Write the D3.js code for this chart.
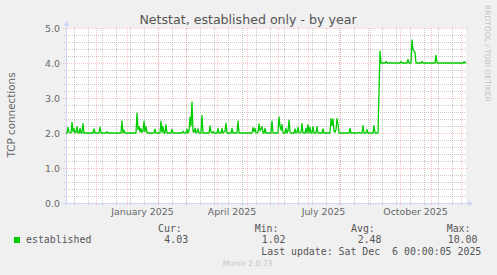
<!DOCTYPE html>
<html>
<head>
<meta charset="utf-8">
<script src="https://cdn.jsdelivr.net/npm/d3@7"></script>
<style>
    html, body { margin: 0; padding: 0; background: #f0f0f0; }
    svg { display: block; }
    text { font-family: "DejaVu Sans", sans-serif; fill: #666; }
    .mono { font-family: "DejaVu Sans Mono", monospace; fill: #555; white-space: pre; }
</style>
</head>
<body>
<svg id="chart" width="497" height="275"></svg>
<script>
const title = "Netstat, established only - by year";
const yLabel = "TCP connections";
const sideLabel = "RRDTOOL / TOBI OETIKER";
const yTicks = [0, 1, 2, 3, 4, 5];
const xTickMonths = ["2025-01-01", "2025-04-01", "2025-07-01", "2025-10-01"];
const xTickLabels = ["January 2025", "April 2025", "July 2025", "October 2025"];
const seriesName = "established";
const legendHeads = ["Cur:", "Min:", "Avg:", "Max:"];
const legendValues = ["4.03", "1.02", "2.48", "10.00"];
const lastUpdate = "Last update: Sat Dec  6 00:00:05 2025";
const footer = "Munin 2.0.73";

// daily averages, only the days where the line bends
const established = [
    ["2024-11-01", 2.00], ["2024-11-02", 2.00], ["2024-11-03", 2.16], ["2024-11-04", 2.02], ["2024-11-06", 2.00],
    ["2024-11-07", 2.30], ["2024-11-08", 2.04], ["2024-11-09", 2.13], ["2024-11-10", 2.00], ["2024-11-11", 2.02],
    ["2024-11-12", 2.18], ["2024-11-13", 2.00], ["2024-11-14", 2.00], ["2024-11-15", 2.13], ["2024-11-16", 2.00],
    ["2024-11-17", 2.00], ["2024-11-18", 2.27], ["2024-11-19", 2.00], ["2024-11-28", 2.00], ["2024-11-29", 2.12],
    ["2024-11-30", 2.00], ["2024-12-04", 2.00], ["2024-12-05", 2.17], ["2024-12-06", 2.00], ["2024-12-11", 2.00],
    ["2024-12-12", 2.04], ["2024-12-13", 2.00], ["2024-12-26", 2.00], ["2024-12-27", 2.34], ["2024-12-28", 2.00],
    ["2024-12-29", 2.08], ["2024-12-30", 2.00], ["2025-01-10", 2.00], ["2025-01-11", 2.57], ["2025-01-12", 2.10],
    ["2025-01-13", 2.18], ["2025-01-14", 2.03], ["2025-01-15", 2.13], ["2025-01-16", 2.02], ["2025-01-17", 2.05],
    ["2025-01-18", 2.34], ["2025-01-19", 2.04], ["2025-01-20", 2.18], ["2025-01-21", 2.00], ["2025-01-28", 2.00],
    ["2025-01-29", 2.11], ["2025-01-30", 2.00], ["2025-02-03", 2.00], ["2025-02-04", 2.34], ["2025-02-05", 2.02],
    ["2025-02-06", 2.18], ["2025-02-07", 2.00], ["2025-02-08", 2.00], ["2025-02-09", 2.24], ["2025-02-10", 2.00],
    ["2025-02-14", 2.00], ["2025-02-15", 2.10], ["2025-02-16", 2.00], ["2025-02-25", 2.00], ["2025-02-26", 2.05],
    ["2025-02-27", 2.00], ["2025-03-01", 2.00], ["2025-03-02", 2.11], ["2025-03-03", 2.00], ["2025-03-04", 2.05],
    ["2025-03-05", 2.45], ["2025-03-06", 2.20], ["2025-03-07", 2.89], ["2025-03-08", 2.05], ["2025-03-09", 2.02],
    ["2025-03-10", 2.14], ["2025-03-11", 2.00], ["2025-03-12", 2.03], ["2025-03-13", 2.12], ["2025-03-14", 2.00],
    ["2025-03-16", 2.00], ["2025-03-17", 2.50], ["2025-03-18", 2.00], ["2025-03-24", 2.00], ["2025-03-25", 2.20],
    ["2025-03-26", 2.02], ["2025-03-27", 2.00], ["2025-03-28", 2.05], ["2025-03-29", 2.00], ["2025-04-01", 2.00],
    ["2025-04-02", 2.13], ["2025-04-03", 2.00], ["2025-04-05", 2.00], ["2025-04-06", 2.13], ["2025-04-07", 2.00],
    ["2025-04-09", 2.05], ["2025-04-10", 2.28], ["2025-04-11", 2.00], ["2025-04-15", 2.00], ["2025-04-16", 2.13],
    ["2025-04-17", 2.00], ["2025-04-21", 2.00], ["2025-04-22", 2.34], ["2025-04-23", 2.00], ["2025-05-06", 2.00],
    ["2025-05-07", 2.15], ["2025-05-08", 2.04], ["2025-05-09", 2.13], ["2025-05-10", 2.00], ["2025-05-12", 2.02],
    ["2025-05-13", 2.26], ["2025-05-14", 2.06], ["2025-05-16", 2.18], ["2025-05-17", 2.00], ["2025-05-18", 2.00],
    ["2025-05-19", 2.13], ["2025-05-20", 2.00], ["2025-05-25", 2.00], ["2025-05-26", 2.34], ["2025-05-27", 2.00],
    ["2025-06-01", 2.00], ["2025-06-02", 2.46], ["2025-06-03", 2.20], ["2025-06-04", 2.08], ["2025-06-05", 2.24],
    ["2025-06-06", 2.00], ["2025-06-08", 2.00], ["2025-06-09", 2.13], ["2025-06-10", 2.00], ["2025-06-11", 2.05],
    ["2025-06-12", 2.37], ["2025-06-13", 2.04], ["2025-06-14", 2.00], ["2025-06-17", 2.00], ["2025-06-18", 2.12],
    ["2025-06-19", 2.00], ["2025-06-20", 2.02], ["2025-06-21", 2.16], ["2025-06-22", 2.00], ["2025-06-24", 2.02],
    ["2025-06-25", 2.27], ["2025-06-26", 2.00], ["2025-06-28", 2.00], ["2025-06-29", 2.13], ["2025-06-30", 2.00],
    ["2025-07-01", 2.24], ["2025-07-02", 2.00], ["2025-07-03", 2.17], ["2025-07-04", 2.00], ["2025-07-05", 2.00],
    ["2025-07-06", 2.18], ["2025-07-07", 2.00], ["2025-07-09", 2.00], ["2025-07-10", 2.18], ["2025-07-11", 2.00],
    ["2025-07-15", 2.00], ["2025-07-16", 2.12], ["2025-07-17", 2.00], ["2025-07-23", 2.00], ["2025-07-24", 2.41],
    ["2025-07-25", 2.22], ["2025-07-26", 2.40], ["2025-07-27", 2.05], ["2025-07-28", 2.02], ["2025-07-29", 2.10],
    ["2025-07-30", 2.41], ["2025-07-31", 2.25], ["2025-08-01", 2.00], ["2025-08-11", 2.00], ["2025-08-12", 2.13],
    ["2025-08-13", 2.00], ["2025-08-20", 2.00], ["2025-08-21", 2.02], ["2025-08-22", 2.00], ["2025-08-24", 2.00],
    ["2025-08-25", 2.21], ["2025-08-26", 2.00], ["2025-08-28", 2.00], ["2025-08-29", 2.10], ["2025-08-30", 2.00],
    ["2025-09-04", 2.00], ["2025-09-05", 2.21], ["2025-09-06", 2.00], ["2025-09-09", 2.00], ["2025-09-11", 4.34],
    ["2025-09-12", 4.00], ["2025-09-16", 4.00], ["2025-09-17", 4.04], ["2025-09-18", 4.00], ["2025-10-01", 4.00],
    ["2025-10-02", 4.04], ["2025-10-03", 4.00], ["2025-10-08", 4.00], ["2025-10-09", 4.10], ["2025-10-10", 4.00],
    ["2025-10-12", 4.00], ["2025-10-13", 4.66], ["2025-10-14", 4.38], ["2025-10-15", 4.34], ["2025-10-16", 4.30],
    ["2025-10-17", 4.00], ["2025-10-22", 4.00], ["2025-10-23", 4.04], ["2025-10-24", 4.00], ["2025-11-05", 4.00],
    ["2025-11-06", 4.22], ["2025-11-07", 4.00], ["2025-12-03", 4.00], ["2025-12-04", 4.04], ["2025-12-05", 4.00],
    ["2025-12-06", 4.03]
];

let parse = d3.utcParse("%Y-%m-%d");
let start = parse("2024-11-01"), end = parse("2025-12-06");
let plot = {left: 66, right: 466, top: 28, bottom: 203};

let x = d3.scaleUtc().domain([start, end]).range([plot.left, plot.right]);
let y = d3.scaleLinear().domain([0, 5]).range([plot.bottom, plot.top]);
let px = v => Math.round(v) + 0.5;

let svg = d3.select("#chart");

svg.append("rect")
    .attr("x", plot.left).attr("y", plot.top)
    .attr("width", plot.right - plot.left).attr("height", plot.bottom - plot.top)
    .attr("fill", "#fff");

// grid: minor every 0.2 / two weeks, major every 1.0 / month
let grid = svg.append("g").attr("stroke-dasharray", "1,1").attr("shape-rendering", "crispEdges");
let minorY = d3.range(1, 25).map(i => i / 5).filter(v => v % 1 !== 0);
let minorX = d3.utcDay.every(1).range(parse("2024-11-09"), end).filter((d, i) => i % 14 === 0);
let majorX = d3.utcMonth.range(parse("2024-12-01"), end);
let minorColor = "rgba(150,150,150,0.5)", majorColor = "rgba(255,120,120,0.42)";

grid.selectAll(".gy").data(minorY).enter().append("line")
    .attr("x1", plot.left - 2).attr("x2", plot.right)
    .attr("y1", d => px(y(d))).attr("y2", d => px(y(d)))
    .attr("stroke", minorColor);
grid.selectAll(".gx").data(minorX).enter().append("line")
    .attr("x1", d => px(x(d))).attr("x2", d => px(x(d)))
    .attr("y1", plot.top).attr("y2", plot.bottom + 2)
    .attr("stroke", minorColor);
grid.selectAll(".my").data(yTicks).enter().append("line")
    .attr("x1", plot.left - 3).attr("x2", plot.right + 2)
    .attr("y1", d => px(y(d))).attr("y2", d => px(y(d)))
    .attr("stroke", majorColor);
grid.selectAll(".mx").data(majorX).enter().append("line")
    .attr("x1", d => px(x(d))).attr("x2", d => px(x(d)))
    .attr("y1", plot.top).attr("y2", plot.bottom + 3)
    .attr("stroke", majorColor);

// axes with arrows
let axisColor = "#cfd6f8";
svg.append("line")
    .attr("x1", px(plot.left)).attr("x2", px(plot.left))
    .attr("y1", plot.bottom + 3).attr("y2", plot.top - 5)
    .attr("stroke", axisColor);
svg.append("line")
    .attr("x1", plot.left - 3).attr("x2", plot.right + 5)
    .attr("y1", px(plot.bottom)).attr("y2", px(plot.bottom))
    .attr("stroke", axisColor);
svg.append("path")
    .attr("d", `M${plot.left - 2.5},${plot.top - 2}L${plot.left + 3.5},${plot.top - 2}L${plot.left + 0.5},${plot.top - 7}Z`)
    .attr("fill", axisColor);
svg.append("path")
    .attr("d", `M${plot.right + 2},${plot.bottom - 2.5}L${plot.right + 2},${plot.bottom + 3.5}L${plot.right + 7},${plot.bottom + 0.5}Z`)
    .attr("fill", axisColor);

// tick labels
svg.selectAll(".ylab").data(yTicks).enter().append("text")
    .attr("x", 60).attr("y", d => y(d) + 3.5)
    .attr("text-anchor", "end").attr("font-size", "9.4px")
    .text(d3.format(".1f"));

svg.selectAll(".xlab").data(xTickMonths).enter().append("text")
    .attr("x", (d, i) => {
        let m = parse(d);
        return (x(m) + x(d3.utcMonth.offset(m, 1))) / 2;
    })
    .attr("y", 214.7)
    .attr("text-anchor", "middle").attr("font-size", "9.4px")
    .text((d, i) => xTickLabels[i]);

// the series
let line = d3.line()
    .x(d => x(parse(d[0])))
    .y(d => y(d[1]));
svg.append("path")
    .datum(established)
    .attr("d", line)
    .attr("fill", "none")
    .attr("stroke", "#00cc00")
    .attr("stroke-width", 1.3)
    .attr("stroke-linejoin", "round");

// titles
svg.append("text")
    .attr("x", 248).attr("y", 24)
    .attr("text-anchor", "middle").attr("font-size", "12.6px").style("fill", "#555")
    .text(title);
svg.append("text")
    .attr("transform", "translate(15,115) rotate(-90)")
    .attr("text-anchor", "middle").attr("font-size", "10.4px")
    .text(yLabel);
svg.append("text")
    .attr("transform", "translate(485,5) rotate(90)")
    .attr("font-size", "7.5px").style("fill", "#c4c4c4")
    .text(sideLabel);

// legend
svg.append("rect")
    .attr("x", 14).attr("y", 237).attr("width", 6).attr("height", 6)
    .attr("fill", "#00cc00");
svg.append("text").attr("class", "mono")
    .attr("x", 26).attr("y", 243).attr("font-size", "9.9px")
    .text(seriesName);

let headX = [158, 254.7, 351, 446.7], valueX = [164.3, 261.7, 357.7, 447.7];
svg.selectAll(".lhead").data(legendHeads).enter().append("text")
    .attr("class", "mono")
    .attr("x", (d, i) => headX[i]).attr("y", 232.2).attr("font-size", "9.9px")
    .text(d => d);
svg.selectAll(".lval").data(legendValues).enter().append("text")
    .attr("class", "mono")
    .attr("x", (d, i) => valueX[i]).attr("y", 242.8).attr("font-size", "9.9px")
    .text(d => d);
svg.append("text").attr("class", "mono")
    .attr("x", 261.3).attr("y", 254.8).attr("font-size", "9.9px")
    .text(lastUpdate);

svg.append("text")
    .attr("x", 247.5).attr("y", 266.3)
    .attr("text-anchor", "middle").attr("font-size", "7.6px").style("fill", "#c4c4c4")
    .text(footer);
</script>
</body>
</html>
